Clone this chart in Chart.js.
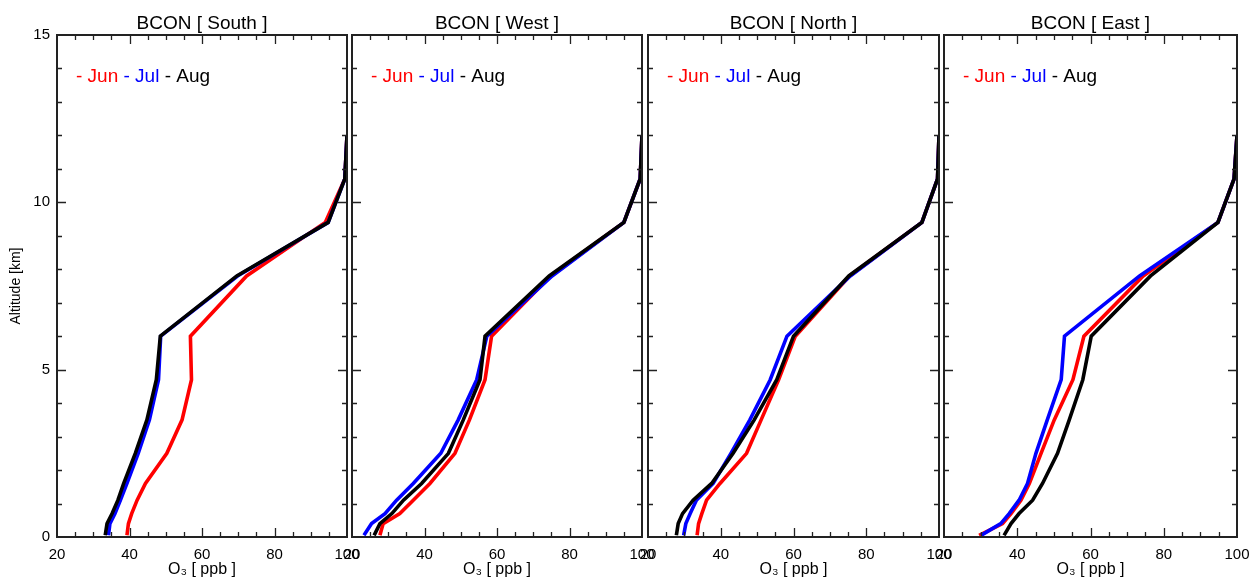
<!DOCTYPE html>
<html>
<head>
<meta charset="utf-8">
<script src="https://cdn.jsdelivr.net/npm/chart.js@4.4.0/dist/chart.umd.min.js"></script>
<style>
  html, body { margin: 0; padding: 0; background: #fff; }
  #wrap { position: relative; width: 1250px; height: 578px; }
  .panel { position: absolute; left: 0; top: 0; width: 1250px; height: 578px; }
</style>
</head>
<body>
<div id="wrap">
  <div class="panel"><canvas id="c0"></canvas></div>
  <div class="panel"><canvas id="c1"></canvas></div>
  <div class="panel"><canvas id="c2"></canvas></div>
  <div class="panel"><canvas id="c3"></canvas></div>
</div>
<script>
// altitude levels of the profiles [km]
const altitude = [0.05, 0.4, 0.7, 1.1, 1.6, 2.5, 3.5, 4.7, 6.0, 7.8, 9.4, 10.7, 12.0];
const regions = ['South', 'West', 'North', 'East'];
const months = ['Jun', 'Jul', 'Aug'];
const xTicks = [20, 40, 60, 80, 100];
const yTicks = [0, 5, 10, 15];

// O3 [ppb] per region and month
const southJun = [39.3, 39.7, 40.6, 42.1, 44.4, 50.3, 54.5, 57.1, 56.8, 72.3, 94.0, 99.4, 100];
const southJul = [34.2, 34.6, 36.0, 37.5, 39.3, 42.4, 45.5, 48.0, 48.6, 69.8, 94.8, 99.4, 100];
const southAug = [33.3, 33.8, 35.2, 36.8, 38.4, 41.6, 44.8, 47.4, 48.5, 69.6, 94.8, 99.4, 100];

const westJun = [27.7, 28.6, 33.2, 36.9, 41.5, 48.4, 52.4, 56.7, 58.5, 74.8, 95.0, 99.5, 100];
const westJul = [23.3, 25.4, 29.1, 32.3, 36.9, 44.5, 49.3, 54.4, 57.2, 75.2, 95.0, 99.5, 100];
const westAug = [26.1, 27.7, 31.0, 34.2, 39.2, 46.6, 50.7, 55.3, 56.7, 74.4, 95.0, 99.5, 100];

const northJun = [33.5, 33.9, 34.8, 36.1, 39.8, 47.1, 51.1, 55.9, 60.5, 75.4, 95.3, 99.6, 100];
const northJul = [29.8, 30.4, 31.6, 33.3, 37.9, 42.8, 48.0, 53.6, 58.2, 75.6, 95.3, 99.6, 100];
const northAug = [27.8, 28.3, 29.5, 32.4, 37.5, 43.4, 49.2, 55.4, 60.0, 75.2, 95.3, 99.6, 100];

const eastJun = [29.6, 36.0, 38.3, 41.0, 43.3, 46.5, 50.1, 55.2, 58.2, 74.4, 94.8, 99.2, 100];
const eastJul = [30.1, 35.5, 37.8, 40.5, 42.8, 45.1, 48.2, 52.0, 52.9, 73.4, 94.8, 99.2, 100];
const eastAug = [36.4, 38.3, 40.5, 44.2, 46.9, 51.0, 54.2, 57.9, 60.2, 76.4, 94.8, 99.2, 100];

const profiles = [
  [southJun, southJul, southAug],
  [westJun, westJul, westAug],
  [northJun, northJul, northAug],
  [eastJun, eastJul, eastAug]
];

// styling / layout
const monthColors = ['#ff0000', '#0000ff', '#000000'];
const panelEdges = [[57, 347], [352, 642], [648, 939], [944, 1237]];
const plotTop = 35;
const plotBottom = 537;
const fontFamily = '"Liberation Sans", Arial, Helvetica, sans-serif';

Chart.defaults.font.family = fontFamily;
Chart.defaults.color = '#000';

// frame with inward ticks on all four sides, panel title and the in-plot legend
const idlFrame = {
  id: 'idlFrame',
  afterDraw(chart, args, opts) {
    const { ctx, chartArea: a } = chart;
    const x = chart.scales.x;
    const y = chart.scales.y;
    ctx.save();

    // ticks
    ctx.strokeStyle = '#222';
    ctx.lineWidth = 1.3;
    ctx.beginPath();
    for (let v = x.min + 5; v < x.max; v += 5) {
      const px = Math.round(x.getPixelForValue(v)) + 0.5;
      const len = v % 20 === 0 ? 9 : 5;
      ctx.moveTo(px, a.bottom); ctx.lineTo(px, a.bottom - len);
      ctx.moveTo(px, a.top); ctx.lineTo(px, a.top + len);
    }
    for (let v = y.min + 1; v < y.max; v += 1) {
      const py = Math.round(y.getPixelForValue(v)) + 0.5;
      const len = v % 5 === 0 ? 9 : 5;
      ctx.moveTo(a.left, py); ctx.lineTo(a.left + len, py);
      ctx.moveTo(a.right, py); ctx.lineTo(a.right - len, py);
    }
    ctx.stroke();

    // box
    ctx.lineWidth = 2;
    ctx.strokeRect(a.left, a.top, a.right - a.left, a.bottom - a.top);

    // title
    ctx.fillStyle = '#000';
    ctx.font = '19px ' + fontFamily;
    ctx.textAlign = 'center';
    ctx.textBaseline = 'alphabetic';
    ctx.fillText(opts.title, (a.left + a.right) / 2, 29);

    // legend: "- Jun - Jul - Aug"
    ctx.textAlign = 'left';
    let lx = a.left + 19;
    const space = ctx.measureText(' ').width;
    chart.data.datasets.forEach(ds => {
      const txt = '- ' + ds.label;
      ctx.fillStyle = ds.borderColor;
      ctx.fillText(txt, lx, 82);
      lx += ctx.measureText(txt).width + space;
    });

    ctx.restore();
  }
};

function makePanel(p) {
  const [left, right] = panelEdges[p];
  const first = p === 0;
  const datasets = months.map((m, k) => ({
    label: m,
    data: altitude.map((h, i) => ({ x: profiles[p][k][i], y: h })),
    borderColor: monthColors[k],
    backgroundColor: monthColors[k],
    borderWidth: 3.6,
    pointRadius: 0,
    showLine: true,
    tension: 0,
    order: 2 - k
  }));

  new Chart(document.getElementById('c' + p), {
    type: 'scatter',
    data: { datasets },
    options: {
      responsive: true,
      maintainAspectRatio: false,
      animation: false,
      events: [],
      layout: {
        padding: { left: first ? 0 : left, right: 1250 - right, top: plotTop, bottom: 0 }
      },
      plugins: {
        legend: { display: false },
        tooltip: { enabled: false },
        idlFrame: { title: 'BCON [ ' + regions[p] + ' ]' }
      },
      scales: {
        x: {
          type: 'linear',
          min: xTicks[0],
          max: xTicks[xTicks.length - 1],
          afterBuildTicks: s => { s.ticks = xTicks.map(v => ({ value: v })); },
          grid: { display: false, drawTicks: false },
          border: { display: false },
          ticks: { font: { size: 15 }, color: '#000', padding: 9, maxRotation: 0, autoSkip: false },
          title: {
            display: true,
            text: 'O\u2083 [ ppb ]',
            font: { size: 16, lineHeight: 1.0 },
            color: '#000',
            padding: { top: 0, bottom: 0 }
          },
          afterFit: s => {
            s.height = 578 - plotBottom;
            s.paddingLeft = 0;
            s.paddingRight = 0;
          }
        },
        y: {
          type: 'linear',
          min: yTicks[0],
          max: yTicks[yTicks.length - 1],
          afterBuildTicks: s => { s.ticks = yTicks.map(v => ({ value: v })); },
          grid: { display: false, drawTicks: false },
          border: { display: false },
          ticks: { display: first, font: { size: 15 }, color: '#000', padding: 7 },
          title: {
            display: first,
            text: 'Altitude [km]',
            font: { size: 14 },
            color: '#000',
            padding: { top: 8, bottom: 0 }
          },
          afterFit: s => {
            s.width = first ? left : 0;
            s.paddingTop = 0;
            s.paddingBottom = 0;
          }
        }
      }
    },
    plugins: [idlFrame]
  });
}

regions.forEach((r, p) => makePanel(p));
</script>
</body>
</html>
